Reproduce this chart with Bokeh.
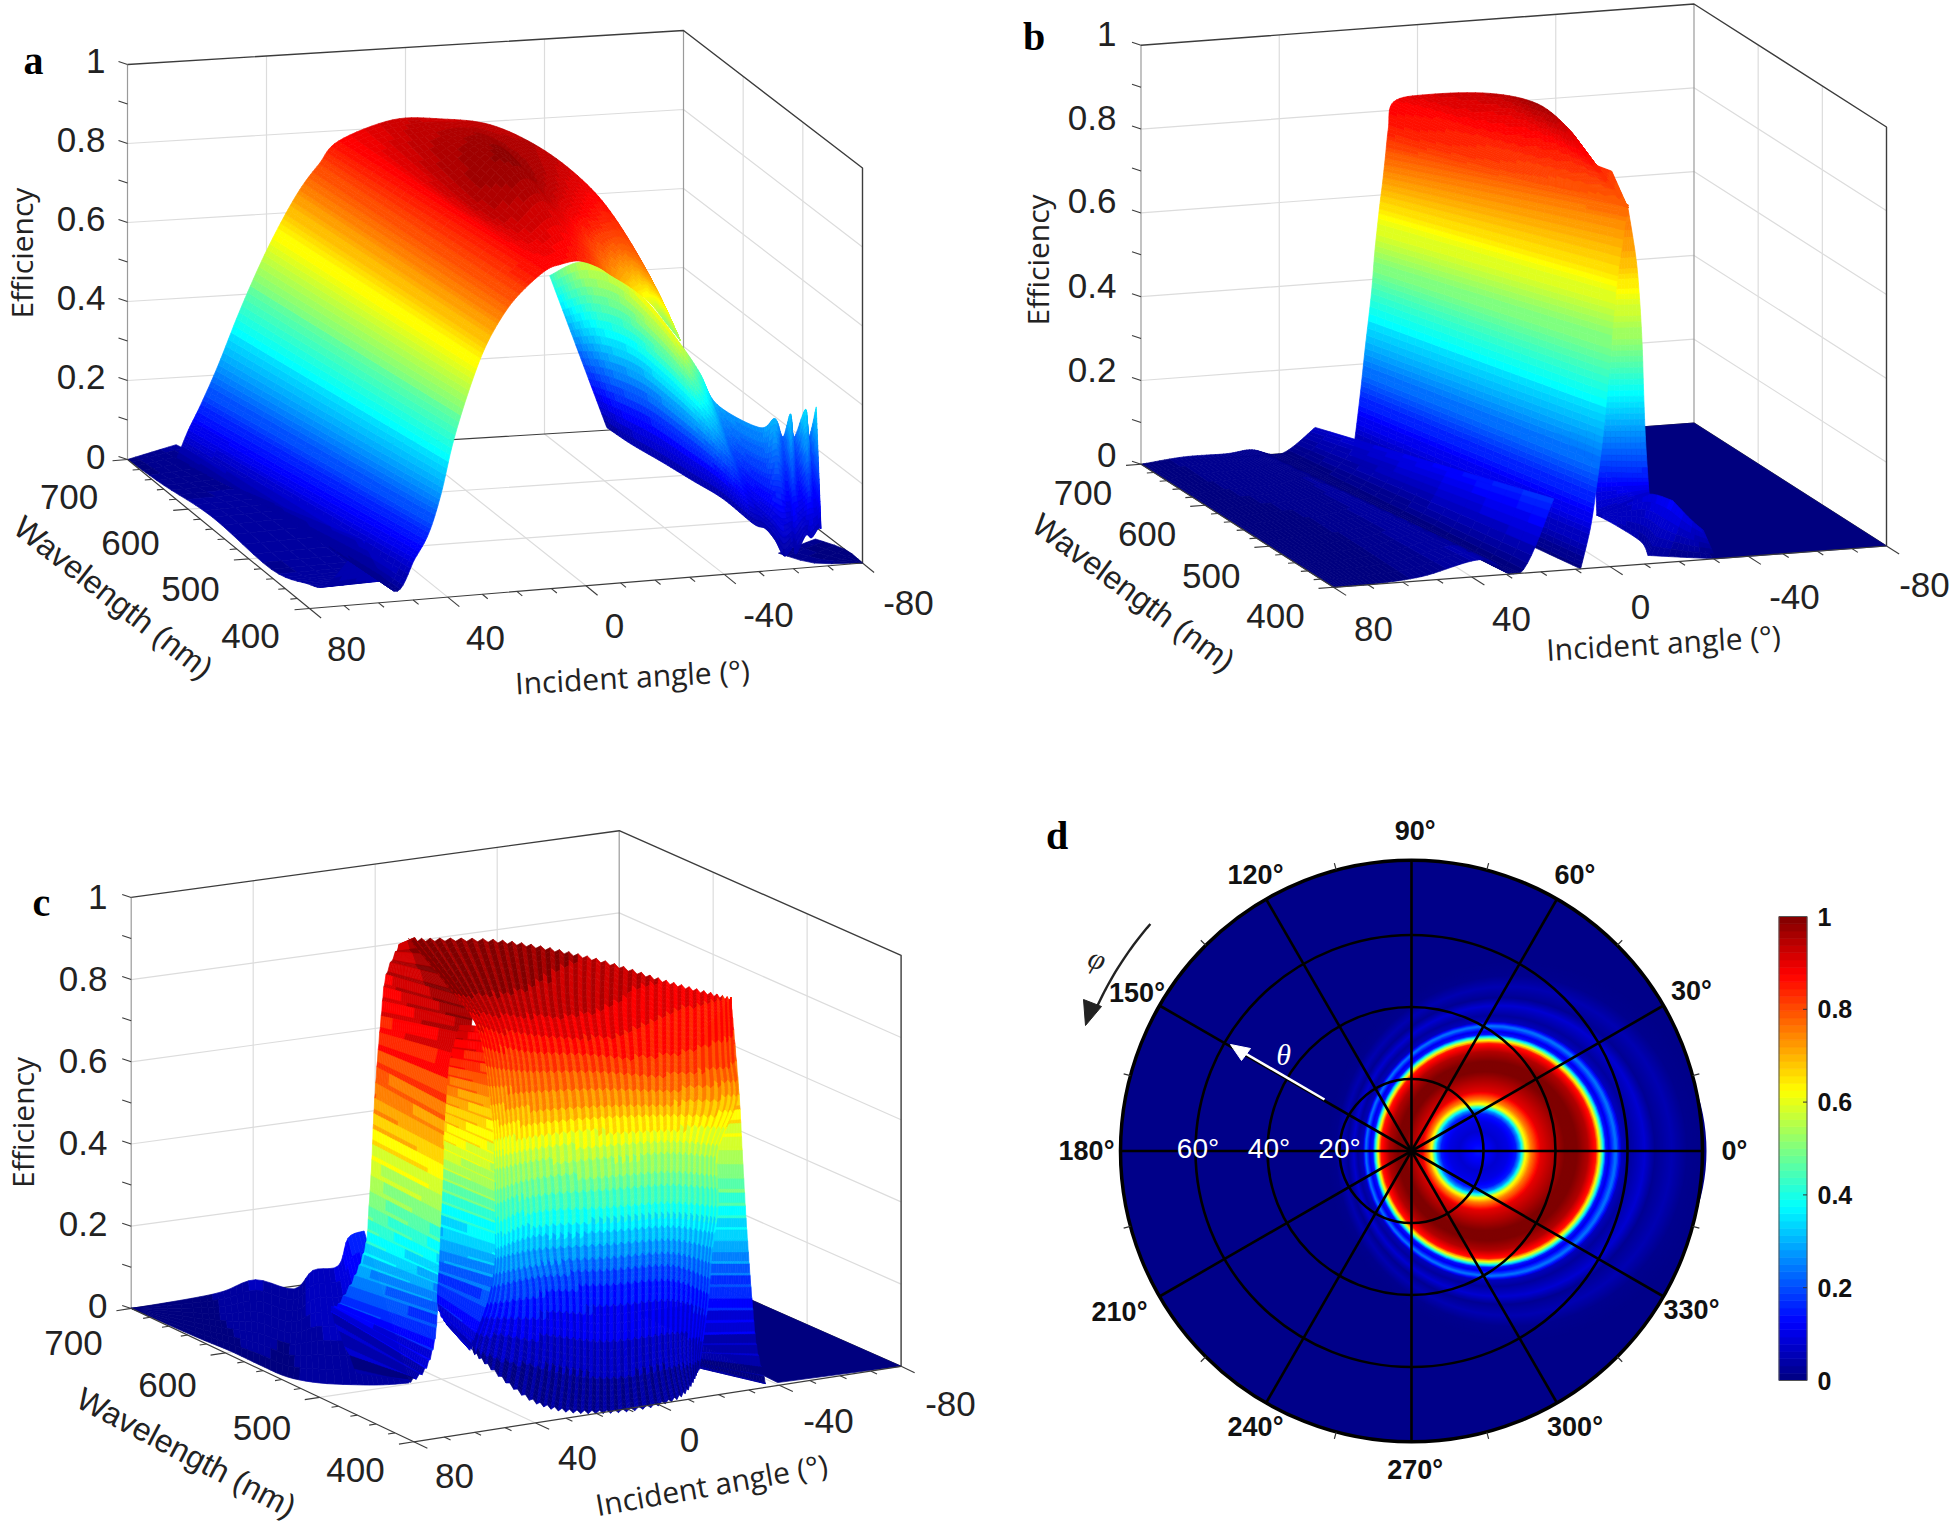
import numpy as np
from bokeh.plotting import figure
from bokeh.models import Range1d, ColumnDataSource
from bokeh.core.properties import value
from bokeh.embed import file_html
from bokeh.resources import INLINE

# ---------- values: (angle deg, wavelength nm, efficiency) ----------
a_floor_a = [[-74.5, -80, -80], [-60, -66, -80]]
a_floor_w = [[447, 430, 400], [425, 400, 400]]
a_floor_e = [[.01, 0, 0], [.01, .01, 0]]

a_strip_a = [[66, 58, 52, 48, 52, 55, 50], [80, 80, 80, 80, 76.5, 72, 59]]
a_strip_w = [[700, 640, 560, 463, 425, 419, 477], [700, 640, 560, 463, 425, 419, 453]]
a_strip_e = [[.03, .02, .04, .03, .04, .04, .06], [0, .01, .03, .02, .03, .03, .05]]

a_back_a = [[-41.5, -38.3, -41, -37, -35, -50, -61, -67.4, -70.6, -77.1, -73.7, -80, -76.7, -84, -80.3],
            [-56.2, -56, -58.4, -60.5, -62.7, -61.4, -63, -61.9, -60.4, -64.6, -64.3, -70.3, -71.1, -74.5, -75.3]]
a_back_w = [[700, 633, 594, 511, 449, 502, 536, 502.4, 495.4, 519.4, 487.6, 517.6, 479.8, 516.3, 482.9],
            [690, 649, 612, 574, 536, 478, 468, 445.7, 421.5, 430.7, 424.3, 442.9, 437.9, 446.7, 446.4]]
a_back_e = [[.40, .52, .55, .57, .55, .40, .27, .25, .28, .2, .3, .2, .32, .2, .32],
            [.02, .03, .03, .03, .03, .04, .04, .04, .03, .04, .03, .05, .05, .06, .06]]

a_main_a = [[69.6, 68, 65.6, 62, 57, 51, 44.5, 38.4, 33, 28, 22.4, 7.7, -5.7, -15.6, -20, -26, -29, -32, -42.4],
            [60.5, 60.5, 56.3, 52.5, 48.3, 43.5, 38, 32.7, 27.5, 22.5, 16, 14.5, -3.4, -5.3, -12.5, -25, -30.5, -36, -42.4],
            [51.4, 53, 47, 43, 39.5, 36, 31.5, 27, 22, 17, 9.6, 3.5, -5, -13.3, -22, -31, -40, -48, -42.4]]
a_main_w = [[682, 682, 682, 682, 682, 682, 682, 682, 682, 682, 682, 677, 673, 649, 594, 558, 523, 481, 490],
            [580, 548, 548, 548, 548, 548, 548, 548, 548, 548, 548, 507, 549, 520, 510, 512, 503, 490, 490],
            [478, 415, 415, 415, 415, 415, 415, 415, 415, 415, 415, 424, 443, 460, 485, 506, 525, 544, 490]]
a_main_e = [[.01, .04, .09, .153, .25, .38, .507, .61, .688, .743, .798, .85, .85, .86, .87, .83, .78, .68, .5],
            [.035, .03, .09, .153, .25, .38, .507, .61, .688, .743, .798, .87, .90, .89, .84, .76, .70, .62, .5],
            [.06, .01, .09, .153, .25, .38, .507, .61, .688, .743, .798, .80, .78, .74, .68, .62, .55, .47, .5]]

b_floor_a = [[-40, -80], [-30.6, -80]]
b_floor_w = [[700, 700], [400, 400]]
b_floor_e = [[0, 0], [0, 0]]

b_s1_a = [[-9, -16.5, -24, -22.6], [-9, -9.8, -13, -11]]
b_s1_w = [[469, 477, 470, 424], [469, 441, 421, 400]]
b_s1_e = [[.05, .06, .09, .12], [.05, .05, .03, .02]]
b_s2_a = [[-22.6, -24.8, -27], [-11, -20.5, -30.6]]
b_s2_w = [[424, 408, 400], [400, 400, 400]]
b_s2_e = [[.12, .09, .07], [.02, .01, 0]]

b_fold_a = [[-26, -14, -11, -7, -6, -8, -10, -9], [-28, -21.6, -21, -18.4, -19, -21, -23.7, -27.7]]
b_fold_w = [[523, 478, 471, 454, 456, 465, 476, 469], [523, 476, 467, 449, 450, 458, 468, 488]]
b_fold_e = [[.72, .65, .56, .47, .36, .24, .12, .05], [.72, .65, .56, .47, .36, .24, .12, .07]]

b_main_a = [[24.6, 23.3, 22, 20.7, 18.9, 17.9, 16.6, 15.7, 14.9, 14, 6.9, 0, -13, -16, -22.4, -21.5, -23, -31.7],
            [8.5, 3.3, .2, -5, -8.5, -15, -18, -24, -28, -28, -28, -28, -28, -28, -28, -28, -28, -28]]
b_main_w = [[670, 670, 670, 670, 670, 670, 670, 670, 670, 670, 700, 683, 657, 599, 585, 561, 557, 568],
            [400, 413, 420, 438, 448, 476, 485, 509, 523, 523, 523, 523, 523, 523, 523, 523, 523, 523]]
b_main_e = [[0, .08, .17, .27, .40, .5, .6, .66, .72, .79, .82, .85, .87, .90, .85, .83, .80, .76],
            [0, .08, .17, .27, .40, .5, .6, .66, .72, .72, .72, .72, .72, .72, .72, .72, .72, .72]]

b_low_a = [[80, 67.7, 55.2, 48, 39.4, 29.6], [80, 70, 54.4, 36.8, 26, 16.3]]
b_low_w = [[700, 700, 700, 700, 700, 700], [400, 400, 400, 400, 400, 400]]
b_low_e = [[0, .01, .01, .015, 0, .057], [0, 0, .01, .04, 0, .172]]

c_floor_a = [[-45, -80], [-41, -80]]
c_floor_w = [[566, 566], [405, 400]]
c_floor_e = [[0, 0], [0, 0]]

c_low_a = [[80, 61.3, 51.7, 44, 32.5, 28.8, 22.1, 17.9, 14.5], [80, 80, 80, 80, 79.4, 76.7, 68, 63.7, 56.2]]
c_low_w = [[700, 696, 693.5, 684.6, 680.8, 672.8, 667.6, 670.8, 664.8], [700, 631, 595.6, 563.7, 535.9, 510.7, 498.4, 485.1, 482.2]]
c_low_e = [[0, .01, .02, .05, .02, .07, .08, .14, .16], [0, .005, .01, .01, .01, .02, .02, .03, .03]]

c_right_a = [[-61.9, -38.7, -35.1, -34.2, -33.6, -34.5, -36, -28.8, -28.1],
             [-61.9, -51.8, -47, -44.4, -46.2, -48.6, -51.1, -45, -38]]
c_right_w = [[522.8, 478.5, 466.5, 463.7, 468.5, 474.4, 479.6, 456.1, 446.9],
             [522.8, 487, 465.7, 454.1, 456.6, 461.1, 465.4, 440.8, 408.2]]
c_right_e = [[.80, .77, .64, .52, .38, .26, .14, .06, .02],
             [.80, .77, .64, .52, .38, .26, .14, .06, .01]]

c_left_a = [[7.1, 22.2, 37, 52.3, 58.1, 61.4, 65, 63.6, 61.8, 58.8, 49.8, 64.7],
            [8.2, 32, 42.3, 50, 55.5, 56.5, 51.2, 51.3, 49, 52.1, 56.3, 55.4]]
c_left_w = [[651.8, 616.7, 573.9, 529, 513.4, 504.8, 496.2, 504, 521.8, 548.8, 584.3, 509],
            [631.4, 499.9, 463.2, 461.9, 446.2, 444.5, 464.7, 465.7, 474.9, 468.5, 465.2, 484.7]]
c_left_e = [[.86, .84, .80, .74, .65, .55, .45, .35, .25, .15, .08, .03],
            [.90, .92, .88, .72, .63, .52, .38, .30, .22, .14, .08, .03]]

c_arch_a = [[39.7, 41.9, 36.2, 39, 37.1, 29.4, 26.1, 26.9, 21.2],
            [19.9, 25.8, 21.1, 27.6, 31.6, 27.4, 25.2, 29.4, 27.1]]
c_arch_w = [[481.7, 484.6, 506.7, 500, 507.2, 534.4, 547.3, 546.5, 555],
            [516.1, 488.5, 500, 475.9, 460.9, 474.1, 488.2, 494.6, 512.5]]
c_arch_e = [[.88, .80, .68, .60, .50, .35, .22, .12, .06],
            [.82, .76, .63, .55, .48, .36, .24, .10, .05]]

c_main_a = [[10.3, -11.7, -30.1, -46.3, -61.9],
            [25, 9.3, -9.3, -36.5, -54.1],
            [19.7, 11.4, -3.9, -22.9, -43.5],
            [23.7, 15.6, -4.7, -22.6, -44],
            [24.1, 9.4, -9.1, -28.6, -38.3],
            [25.4, 9.5, -10.9, -29.6, -39.3],
            [20.8, 5.3, -15.1, -33.8, -39.3],
            [20.3, 1.6, -19.1, -37.8, -40],
            [23.6, 12.2, .9, -20.3, -29],
            [23, 29.8, 16.9, -8.4, -28.1]]
c_main_w = [[631.3, 607.6, 572.4, 536.9, 522.8],
            [543, 526, 505, 505, 496.4],
            [526.3, 505.8, 480.9, 460.8, 460],
            [499.7, 485.1, 476.5, 459.8, 458.1],
            [495, 502.1, 487.2, 479.3, 459.9],
            [490.2, 498.4, 489.8, 482.7, 463.2],
            [505.4, 511.6, 503, 495.9, 469.8],
            [513.9, 517.2, 516.3, 509.2, 475.7],
            [516.9, 482.9, 451.5, 452.5, 446.7],
            [522, 432.2, 399.3, 406.9, 446.9]]
c_main_e = [[.90, .90, .88, .84, .80],
            [.90, .88, .85, .80, .78],
            [.80, .78, .78, .76, .74],
            [.63, .66, .66, .66, .64],
            [.50, .50, .52, .52, .52],
            [.36, .38, .38, .38, .38],
            [.26, .26, .26, .26, .26],
            [.16, .16, .14, .14, .14],
            [.07, .05, .05, .05, .07],
            [.03, .01, .01, .01, .02]]

# panel d: ring pattern seen in the polar map
ring_r = [190, 176, 165, 154, 146, 136, 130, 125.5, 120, 117, 113, 108, 100, 90, 80, 70, 60, 52, 47, 45, 42, 38, 30, 20, 10, 0]
ring_e = [.01, .015, .05, .02, .08, .03, .06, .25, .1, .15, .5, .85, .95, 1.0, 1.0, .95, .9, .75, .6, .45, .28, .15, .1, .08, .12, .15]
ring_off = [105, 100, 96, 90, 88, 82, 81, 79.5, 78, 78, 77.5, 77, 77, 76, 74, 72, 70, 68, 67, 67, 67, 67, 67, 67, 67, 67]

z_ticks = [0, .2, .4, .6, .8, 1]
z_labels = ["0", "0.2", "0.4", "0.6", "0.8", "1"]
wl_labels = ["700", "600", "500", "400"]
angle_labels = ["80", "40", "0", "-40", "-80"]
phi_labels = ["0°", "30°", "60°", "90°", "120°", "150°", "180°", "210°", "240°", "270°", "300°", "330°"]
theta_labels = ["20°", "40°", "60°"]
cbar_labels = ["0", "0.2", "0.4", "0.6", "0.8", "1"]

# ---------- layout (page pixels) ----------
PANELS = {
    "a": dict(L=(127, 459), F=(309, 608), B=(683, 425), R=(862, 562.5), H=395, emax=.92),
    "b": dict(L=(1140.5, 463.8), F=(1333, 586.8), B=(1693.5, 422.5), R=(1886, 545.5), H=419, emax=.93),
    "c": dict(L=(130.7, 1307.9), F=(413.3, 1441.3), B=(618.7, 1241.2), R=(900.6, 1365.8), H=411, emax=.92),
}
SERIF, SANS, OPEN = "Liberation Serif", "Liberation Sans", "Open Sans"


def jet(x):
    x = np.clip(x, 0, 1)
    r = np.clip(np.minimum(4 * x - 1.5, -4 * x + 4.5), 0, 1)
    g = np.clip(np.minimum(4 * x - .5, -4 * x + 3.5), 0, 1)
    b = np.clip(np.minimum(4 * x + .5, -4 * x + 2.5), 0, 1)
    return "#%02x%02x%02x" % (int(r * 255), int(g * 255), int(b * 255))


def proj(pn, a, w, e=0.0, affine=False):
    P = PANELS[pn]
    s = (700 - np.asarray(w, float)) / 300
    t = (80 - np.asarray(a, float)) / 160
    L, F, B, R = [np.array(P[k]) for k in "LFBR"]
    if affine:
        x = L[0] + s * (F[0] - L[0]) + t * (B[0] - L[0])
        y = L[1] + s * (F[1] - L[1]) + t * (B[1] - L[1]) - P["H"] * np.asarray(e, float)
        return x, y
    x = L[0] * (1 - s) * (1 - t) + F[0] * s * (1 - t) + B[0] * (1 - s) * t + R[0] * s * t
    y = L[1] * (1 - s) * (1 - t) + F[1] * s * (1 - t) + B[1] * (1 - s) * t + R[1] * s * t - P["H"] * np.asarray(e, float)
    return x, y


def cr(p, u):
    p = np.asarray(p, float)
    if len(p) < 3:
        return np.interp(u, np.arange(len(p)), p)
    i = np.clip(np.floor(u).astype(int), 0, len(p) - 2)
    f = u - i
    p0, p1, p2, p3 = p[np.maximum(i - 1, 0)], p[i], p[i + 1], p[np.minimum(i + 2, len(p) - 1)]
    return .5 * (2 * p1 + (p2 - p0) * f + (2 * p0 - 5 * p1 + 4 * p2 - p3) * f ** 2 + (3 * p1 - p0 - 3 * p2 + p3) * f ** 3)


def grid(G, nu, nv):
    G = np.asarray(G, float)
    U = np.linspace(0, G.shape[1] - 1, nu + 1)
    V = np.linspace(0, G.shape[0] - 1, nv + 1)
    rows = np.array([cr(r, U) for r in G])
    return np.array([cr(rows[:, j], V) for j in range(rows.shape[1])]).T


XS, YS, CS = [], [], []


def sheet(pn, A, W, E, nu, nv, rib=0.0, levels=64, affine=True):
    a, w, e = grid(A, nu, nv), grid(W, nu, nv), np.clip(grid(E, nu, nv), 0, None)
    sign = np.where(np.arange(nu + 1) % 2 == 0, 1.0, -1.0)
    x, y = proj(pn, a, w, e + rib * sign[None, :], affine)
    em = PANELS[pn]["emax"]
    for i in range(nv):
        for j in range(nu):
            v = (e[i, j] + e[i, j + 1] + e[i + 1, j] + e[i + 1, j + 1]) / 4 / em + (rib * 5 * (1 if j % 2 else -1)) / em
            v = np.floor(v * levels + .5) / levels
            XS.append([x[i, j], x[i, j + 1], x[i + 1, j + 1], x[i + 1, j]])
            YS.append([y[i, j], y[i, j + 1], y[i + 1, j + 1], y[i + 1, j]])
            CS.append(jet(v))


p = figure(width=1958, height=1526, x_range=Range1d(0, 1958), y_range=Range1d(1526, 0),
           x_axis_type=None, y_axis_type=None, toolbar_location=None, output_backend="svg",
           min_border=0, outline_line_color=None, background_fill_color="white")
p.grid.visible = False


def seg(xs, ys, color, width=1.0):
    p.multi_line(xs, ys, line_color=color, line_width=width)


def frame_back(pn):
    gc, dark = "#dcdcdc", "#3c3c3c"
    gx, gy = [], []
    for z in [.2, .4, .6, .8]:
        x, y = proj(pn, [80, -80, -80], [700, 700, 400], [z, z, z])
        gx.append(list(x)); gy.append(list(y))
    for a in [40, 0, -40]:
        x, y = proj(pn, [a, a, a], [400, 700, 700], [0, 0, 1])
        gx.append(list(x)); gy.append(list(y))
    for w in [600, 500]:
        x, y = proj(pn, [80, -80, -80], [w, w, w], [0, 0, 1])
        gx.append(list(x)); gy.append(list(y))
    seg(gx, gy, gc, 1.2)
    x, y = proj(pn, [80, 80], [700, 700], [0, 1])
    x2, y2 = proj(pn, [-80, -80], [700, 700], [0, 1])
    seg([list(x), list(x2)], [list(y), list(y2)], "#9a9a9a", 1.2)
    x, y = proj(pn, [80, -80, -80, -80], [700, 700, 400, 400], [1, 1, 1, 0])
    seg([list(x)], [list(y)], dark, 1.4)
    x, y = proj(pn, [80, -80, -80], [700, 700, 400], [0, 0, 0])
    seg([list(x)], [list(y)], dark, 1.2)


def frame_front(pn):
    dark = "#3c3c3c"
    P = PANELS[pn]
    L, F, R = [np.array(P[k], float) for k in "LFR"]
    x, y = proj(pn, [80, 80, -80], [700, 400, 400], [0, 0, 0])
    seg([list(x)], [list(y)], dark, 1.2)
    d_a = (F - L) / np.hypot(*(F - L))
    d_w = (F - R) / np.hypot(*(F - R))
    tx, ty = [], []
    for a in range(-80, 81, 10):
        k = 15 if a % 40 == 0 else 7
        x0, y0 = proj(pn, a, 400)
        tx.append([float(x0), float(x0 + d_a[0] * k)]); ty.append([float(y0), float(y0 + d_a[1] * k)])
    for w in range(400, 701, 20):
        k = 15 if w % 100 == 0 else 7
        x0, y0 = proj(pn, 80, w)
        tx.append([float(x0), float(x0 + d_w[0] * k)]); ty.append([float(y0), float(y0 + d_w[1] * k)])
    for z in np.arange(0, 1.01, .1):
        x0, y0 = proj(pn, 80, 700, z)
        tx.append([float(x0), float(x0 - 9)]); ty.append([float(y0), float(y0 - 3)])
    seg(tx, ty, dark, 1.1)


def txt(x, y, t, font=SANS, size=35, color="#222222", align="center", angle=0.0, style="normal", base="middle"):
    p.text(x=x, y=y, text=t, text_font=value(font), text_font_size=value(f"{size}px"), text_color=color,
           text_align=align, text_baseline=base, angle=angle, text_font_style=style)


for pn in "abc":
    frame_back(pn)

sheet("a", a_strip_a, a_strip_w, a_strip_e, 36, 6)
sheet("a", a_floor_a, a_floor_w, a_floor_e, 6, 4, affine=False)
sheet("a", a_back_a, a_back_w, a_back_e, 140, 22)
sheet("a", a_main_a, a_main_w, a_main_e, 144, 30)

sheet("b", b_floor_a, b_floor_w, b_floor_e, 1, 1, affine=False)
sheet("b", b_s1_a, b_s1_w, b_s1_e, 18, 6)
sheet("b", b_s2_a, b_s2_w, b_s2_e, 12, 6)
sheet("b", b_fold_a, b_fold_w, b_fold_e, 56, 10)
sheet("b", b_main_a, b_main_w, b_main_e, 136, 30)
sheet("b", b_low_a, b_low_w, b_low_e, 50, 16)

sheet("c", c_floor_a, c_floor_w, c_floor_e, 1, 1, affine=False)
sheet("c", c_low_a, c_low_w, c_low_e, 40, 8, levels=32)
sheet("c", c_right_a, c_right_w, c_right_e, 64, 24, rib=.004, levels=24)
sheet("c", c_left_a, c_left_w, c_left_e, 66, 44, rib=.004, levels=24)
sheet("c", c_arch_a, c_arch_w, c_arch_e, 64, 24, rib=.004, levels=24)
sheet("c", c_main_a, c_main_w, c_main_e, 76, 81, rib=.004, levels=24)

p.patches(xs="xs", ys="ys", fill_color="c", line_color="c", line_width=.7,
          source=ColumnDataSource(dict(xs=XS, ys=YS, c=CS)))

for pn in "abc":
    frame_front(pn)

# ---------- panel d ----------
CX, CY, PX_PER_DEG = 1411, 1150.5, 3.6
OUTER = 291
p.circle(x=[CX], y=[CY], radius=OUTER, fill_color=jet(.01), line_color=None)
rr = np.arange(ring_r[0], 0, -1.0)
asc_r = ring_r[::-1]
ee = np.interp(rr, asc_r, ring_e[::-1])
off = np.interp(rr, asc_r, ring_off[::-1])
p.circle(x=list(CX + off), y=[CY] * len(rr), radius=list(rr), fill_color=[jet(v) for v in ee], line_color=None)

p.circle(x=[CX] * 3, y=[CY] * 3, radius=[20 * PX_PER_DEG, 40 * PX_PER_DEG, 60 * PX_PER_DEG],
         fill_color=None, line_color="black", line_width=2.6)
ang = np.radians(np.arange(0, 360, 30))
p.multi_line([[CX, CX + OUTER * np.cos(t)] for t in ang], [[CY, CY - OUTER * np.sin(t)] for t in ang],
             line_color="black", line_width=2.6)
p.circle(x=[CX], y=[CY], radius=OUTER, fill_color=None, line_color="black", line_width=3.5)
ang2 = np.radians(np.arange(15, 360, 30))
p.multi_line([[CX + OUTER * np.cos(t), CX + (OUTER + 7) * np.cos(t)] for t in ang2],
             [[CY - OUTER * np.sin(t), CY - (OUTER + 7) * np.sin(t)] for t in ang2],
             line_color="#333333", line_width=1.2)

phi_x = [1734, 1691, 1574.5, 1414.7, 1255, 1136.5, 1086, 1119, 1255, 1414.7, 1574.5, 1691]
phi_y = [1150, 990, 874, 830, 874, 992, 1150, 1311.6, 1426, 1469, 1426, 1309]
txt(phi_x, phi_y, phi_labels, size=27, style="bold", color="#111111")
txt([1339, 1268.5, 1197.5], [1148, 1148, 1148], theta_labels, size=28, color="white")

# arrows
th = np.radians(np.linspace(139, 156, 20))
p.line(CX + 346 * np.cos(th), CY - 346 * np.sin(th), line_color="#222222", line_width=2.4)
p.patch([1083, 1101, 1085], [999, 1006, 1025], fill_color="#222222", line_color="#222222")
p.line([1324, 1238], [1099, 1049], line_color="white", line_width=2.6)
p.patch([1230, 1250, 1241], [1044, 1048, 1060], fill_color="white", line_color="white")
txt([1097], [958], ["φ"], font=SERIF, size=30, style="italic", color="#222222", angle=-.35)
txt([1283], [1054], ["θ"], font=SERIF, size=30, style="italic", color="white")

# colour bar
lv = np.linspace(0, 1, 65)
CB_L, CB_R, CB_T, CB_B = 1778.5, 1806.5, 916, 1380
cb_cols = [jet((lv[i] + lv[i + 1]) / 2) for i in range(64)]
p.quad(left=[CB_L] * 64, right=[CB_R] * 64,
       bottom=list(CB_B - lv[:-1] * (CB_B - CB_T)), top=list(CB_B - lv[1:] * (CB_B - CB_T)),
       fill_color=cb_cols, line_color=cb_cols, line_width=.7)
p.multi_line([[CB_L, CB_R, CB_R, CB_L, CB_L]], [[CB_T, CB_T, CB_B, CB_B, CB_T]], line_color="#555555", line_width=1)
cb_y = [CB_B - v * (CB_B - CB_T) for v in z_ticks]
p.multi_line([[CB_R - 4, CB_R] for _ in cb_y[1:-1]], [[v, v] for v in cb_y[1:-1]], line_color="#333333", line_width=1)
txt([1817] * 6, cb_y, cbar_labels, size=25, style="bold", color="#111111", align="left")

# ---------- texts of the 3-D panels ----------
txt([105] * 6, [456, 376.5, 297, 218, 139, 60], z_labels, align="right")
txt([1116] * 6, [454.6, 369, 285, 200.7, 117, 33], z_labels, align="right")
txt([107] * 6, [1305.6, 1223.6, 1142.6, 1060, 978, 896], z_labels, align="right")
txt([68.6, 130, 190, 250], [496, 542, 588, 635], wl_labels)
txt([1082.5, 1146.6, 1210.8, 1275], [492, 533.6, 575, 615], wl_labels)
txt([73, 167, 261.5, 355], [1342, 1384, 1427, 1469], wl_labels)
txt([346, 485, 614, 768, 908], [648, 637, 625, 614, 602], angle_labels)
txt([1373, 1511, 1640, 1794, 1924], [628, 618, 606, 596, 584], angle_labels)
txt([454, 577, 689, 828, 950], [1475, 1457.5, 1439, 1420, 1403], angle_labels)

for (x, y) in [(21, 252.6), (1036.7, 259.4), (22, 1122)]:
    txt([x], [y], ["Efficiency"], font=OPEN, size=30, angle=np.pi / 2)
for (x, y, r) in [(632, 676, 3.2), (1663, 642, 3.4), (711, 1484, 10)]:
    txt([x], [y], ["Incident angle (°)"], font=OPEN, size=30, angle=np.radians(r))
for (x, y, r) in [(113, 597, -38), (1133, 592, -36.4), (186, 1452, -27.7)]:
    txt([x], [y], ["Wavelength (nm)"], size=32, angle=np.radians(r))
for (x, y, t) in [(33, 60, "a"), (1033.6, 36, "b"), (41, 902, "c"), (1056.6, 835, "d")]:
    txt([x], [y], [t], font=SERIF, size=40, style="bold", color="black")

open("out.html", "w").write(file_html(p, INLINE))
